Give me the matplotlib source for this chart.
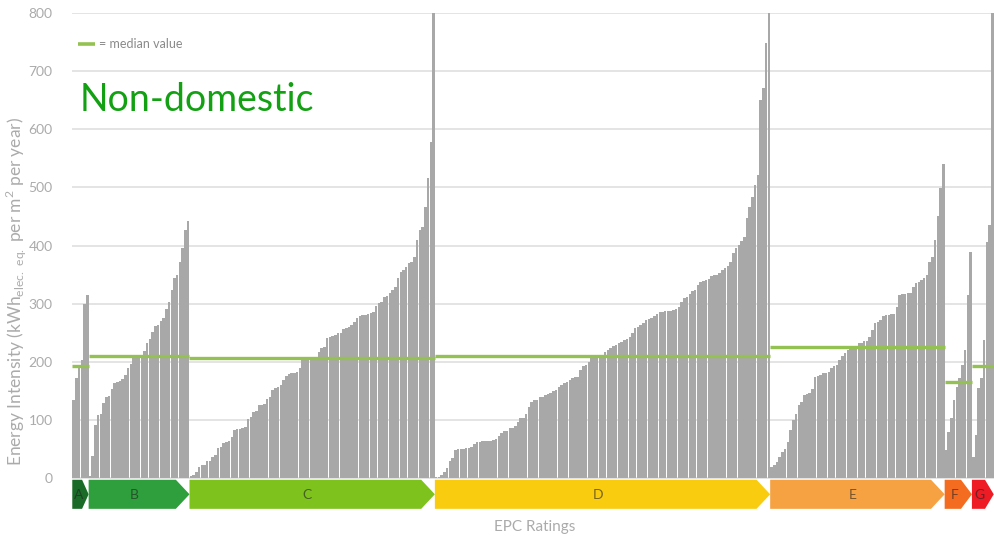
import numpy as np
import matplotlib.pyplot as plt
from matplotlib.patches import Polygon
import matplotlib.transforms as mtransforms

plt.rcParams['font.family'] = ['Lato', 'DejaVu Sans']

# energy intensity per building, sorted within each EPC band (kWh elec. eq. per m2 per year)
band_a = [134, 172, 190, 203, 300, 315]
band_b = [3, 38, 91, 108, 110, 129, 139, 141, 153, 163, 165, 167, 170, 177, 189, 197, 206, 207,
          210, 212, 219, 232, 240, 251, 261, 263, 271, 275, 291, 303, 323, 344, 349, 372, 396, 427, 442]
band_c = [3, 5, 10, 19, 22, 22, 29, 30, 37, 40, 51, 54, 60, 62, 64, 71, 82, 84, 85, 86, 88, 102,
          105, 114, 116, 125, 126, 128, 136, 140, 151, 155, 157, 160, 169, 175, 179, 180, 181, 183,
          189, 205, 205, 206, 206, 207, 208, 217, 224, 225, 241, 243, 245, 246, 249, 250, 256, 258,
          260, 263, 269, 275, 279, 280, 281, 282, 284, 285, 296, 301, 303, 311, 313, 318, 323, 329,
          344, 355, 358, 363, 370, 372, 380, 409, 427, 432, 466, 516, 578, 900]
band_d = [2, 2, 5, 10, 17, 30, 34, 48, 50, 50, 50, 51, 51, 54, 58, 62, 62, 64, 64, 64, 64, 66, 67,
          72, 77, 81, 81, 86, 86, 90, 97, 103, 104, 111, 122, 131, 134, 135, 139, 140, 143, 144, 147,
          150, 152, 156, 160, 164, 166, 168, 172, 173, 174, 186, 193, 195, 200, 206, 206, 207, 210,
          212, 217, 220, 223, 227, 229, 232, 234, 237, 240, 243, 250, 258, 260, 264, 266, 272, 273,
          276, 278, 282, 286, 286, 287, 287, 288, 289, 290, 295, 302, 309, 312, 316, 321, 324, 332,
          338, 339, 341, 343, 348, 349, 349, 353, 358, 361, 364, 372, 387, 395, 401, 407, 415, 447,
          467, 484, 504, 521, 651, 671, 749, 900]
band_e = [19, 22, 28, 37, 45, 50, 62, 83, 100, 111, 126, 131, 143, 144, 146, 154, 174, 176, 177,
          180, 181, 183, 189, 192, 194, 203, 210, 215, 220, 222, 226, 227, 232, 232, 235, 236, 243,
          255, 266, 268, 272, 278, 281, 281, 282, 282, 295, 315, 316, 317, 318, 318, 329, 335, 338,
          340, 344, 349, 372, 381, 410, 450, 499, 540]
band_f = [48, 80, 103, 134, 157, 172, 194, 220, 315, 389]
band_g = [36, 74, 155, 172, 238, 406, 435, 900]

ratings = ['A', 'B', 'C', 'D', 'E', 'F', 'G']
medians = [192, 210, 206, 210, 226, 165, 192]
band_colors = ['#1b6b28', '#2f9e3c', '#7dc21d', '#f9cc10', '#f6a142', '#f36c1f', '#ee1b25']

bands = [band_a, band_b, band_c, band_d, band_e, band_f, band_g]
values = np.concatenate(bands)
n = len(values)

fig = plt.figure(figsize=(9.94, 5.37), dpi=100)
ax = fig.add_axes([72 / 994, (537 - 510) / 537, 922 / 994, 497 / 537])

ax.bar(np.arange(n), values, width=0.92, color='#a8a8a8', zorder=2)

# band boxes along the bottom + median lines
trans = mtransforms.blended_transform_factory(ax.transData, ax.transData)
start = 0
for rating, vals, med, col in zip(ratings, bands, medians, band_colors):
    x0 = start - 0.5
    x1 = start + len(vals) - 0.5
    tip = min(5.0, 0.4 * len(vals))
    y0, y1 = -53, -3
    ym = (y0 + y1) / 2
    poly = Polygon([(x0, y0), (x1 - tip, y0), (x1, ym), (x1 - tip, y1), (x0, y1)],
                   closed=True, facecolor=col, edgecolor='none', transform=trans,
                   clip_on=False, zorder=3)
    ax.add_patch(poly)
    ax.text((x0 + x1 - tip) / 2 + tip * 0.15, ym - 2, rating, ha='center', va='center',
            fontsize=10, color='#222222', alpha=0.6, zorder=4)
    ax.plot([x0, x1], [med, med], color='#93c152', lw=2.4, solid_capstyle='butt', zorder=5)
    start += len(vals)

ax.set_xlim(-0.6, n - 0.4)
ax.set_ylim(-55, 800)
ax.set_yticks(range(0, 801, 100))
ax.set_xticks([])
ax.grid(axis='y', color='#dcdcdc', lw=1.1, zorder=0)
ax.tick_params(axis='y', length=0, pad=14, labelsize=10, labelcolor='#ababab')
for s in ax.spines.values():
    s.set_visible(False)

ax.set_ylabel('Energy Intensity (kWh$_{\\mathregular{elec.\\ eq.}}$ per m$^{\\mathregular{2}}$ per year)',
              fontsize=12.5, color='#ababab', labelpad=6)
ax.yaxis.set_label_coords(-44 / 922, (510 - 292) / 497)
fig.text(535 / 994, 1 - 527 / 537, 'EPC Ratings', ha='center', va='center',
         fontsize=11, color='#ababab')

# legend and title
ax.plot([0.007, 0.025], [0.938, 0.938], transform=ax.transAxes, color='#93c152', lw=2.6,
        solid_capstyle='butt', clip_on=False)
ax.text(0.029, 0.938, '= median value', transform=ax.transAxes, fontsize=9,
        color='#8a8a8a', va='center')
fig.text(80 / 994, 1 - 100 / 537, 'Non-domestic', fontsize=27, color='#13a013',
         va='center', ha='left')

fig.savefig('out.png', dpi=100)
